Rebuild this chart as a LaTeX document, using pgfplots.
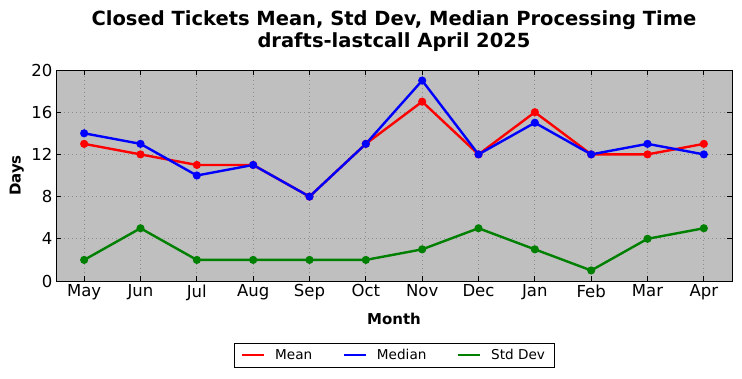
\documentclass[border=0pt]{standalone}
\usepackage{fontspec}
\setmainfont{DejaVu Sans}
\usepackage{pgfplots}
\pgfplotsset{compat=1.18}
\definecolor{bggray}{RGB}{191,191,191}
\definecolor{mpgreen}{RGB}{0,128,0}
\begin{document}
\begin{tikzpicture}
\useasboundingbox (0pt,0pt) rectangle (742pt,378pt);
\begin{axis}[
  at={(56pt,97pt)}, anchor=south west,
  scale only axis, width=676pt, height=211pt,
  xmin=-0.5, xmax=11.5, ymin=0, ymax=20,
  xtick={0,...,11},
  xticklabels={May,Jun,Jul,Aug,Sep,Oct,Nov,Dec,Jan,Feb,Mar,Apr},
  ytick={0,4,8,12,16,20},
  /pgf/number format/assume math mode=true,
  tick label style={font=\fontsize{16.5}{19}\selectfont},
  tick align=inside, tick pos=both,
  major tick length=5pt,
  tick style={black, line width=0.8pt},
  axis background/.style={fill=bggray},
  axis line style={line width=1pt},
  grid=major,
  major grid style={black!45, dash pattern=on 1pt off 3pt, line width=0.8pt},
  title={Closed Tickets Mean, Std Dev, Median Processing Time\\drafts-lastcall April 2025},
  title style={font=\fontsize{19.5}{22.5}\selectfont\bfseries, align=center,
    at={(axis description cs:0.5,1)}, anchor=south, inner sep=0pt, yshift=12pt},
  xlabel={Month}, ylabel={Days},
  xlabel style={font=\fontsize{15}{18}\selectfont\bfseries, at={(axis description cs:0.5,-0.182)}, anchor=center},
  ylabel style={font=\fontsize{15}{18}\selectfont\bfseries, at={(axis description cs:-0.058,0.5)}, anchor=center},
  legend columns=3,
  legend style={at={(axis description cs:0.5,-0.294)}, anchor=north,
    draw=black, line width=0.8pt, fill=white,
    font=\fontsize{13.6}{16}\selectfont, inner xsep=7pt, inner ysep=4pt,
    /tikz/every odd column/.append style={column sep=8pt},
    /tikz/every even column/.append style={column sep=28.5pt}},
  legend image code/.code={\draw[#1, mark=none, line width=2.2pt] (0pt,0pt) -- (22pt,0pt);},
  every axis plot/.append style={line width=2.4pt, mark=*, mark size=2.8pt,
    mark options={draw=black, line width=0.6pt}},
]
\addplot[red, mark options={fill=red}] coordinates {
(0,13) (1,12) (2,11) (3,11) (4,8) (5,13) (6,17) (7,12) (8,16) (9,12) (10,12) (11,13)};
\addlegendentry{Mean}
\addplot[blue, mark options={fill=blue}] coordinates {
(0,14) (1,13) (2,10) (3,11) (4,8) (5,13) (6,19) (7,12) (8,15) (9,12) (10,13) (11,12)};
\addlegendentry{Median}
\addplot[mpgreen, mark options={fill=mpgreen}] coordinates {
(0,2) (1,5) (2,2) (3,2) (4,2) (5,2) (6,3) (7,5) (8,3) (9,1) (10,4) (11,5)};
\addlegendentry{Std Dev}
\end{axis}
\end{tikzpicture}
\end{document}
